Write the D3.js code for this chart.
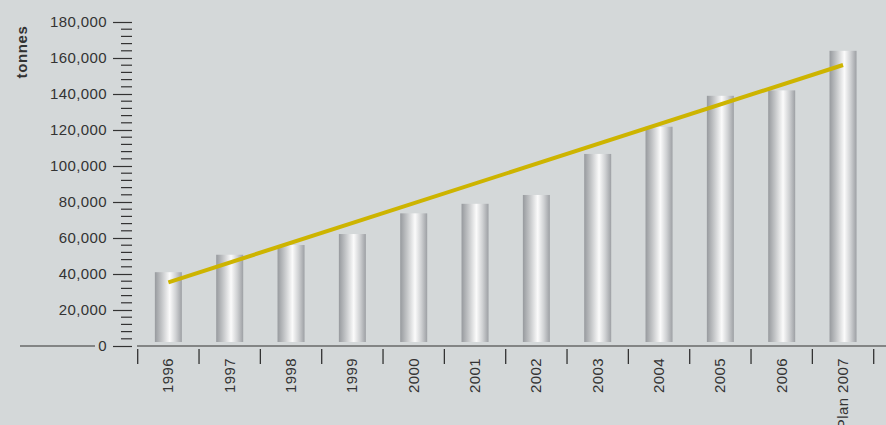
<!DOCTYPE html>
<html>
<head>
<meta charset="utf-8">
<script src="https://cdn.jsdelivr.net/npm/d3@7"></script>
<style>
  body { margin: 0; background: #d4d8d9; }
  svg { display: block; }
  text { font-family: "Liberation Sans", Arial, sans-serif; fill: #333; }
</style>
</head>
<body>
<svg id="chart" width="886" height="425"></svg>
<script>
/*Data*/
var years = ['1996', '1997', '1998', '1999', '2000', '2001', '2002', '2003', '2004', '2005', '2006', 'Plan 2007'];
var tonnes = [41000, 50700, 56100, 62200, 73700, 79000, 83900, 106700, 121800, 139000, 142000, 164000];
var trend = [35400, 156100]; // trend line at first and last year
var yTicks = [0, 20000, 40000, 60000, 80000, 100000, 120000, 140000, 160000, 180000];

var svg = d3.select('#chart');

var x = d3.scaleBand().domain(years).range([137.7, 873.7]).paddingInner(0).paddingOuter(0);
var y = d3.scaleLinear().domain([0, 180000]).range([346, 22]);

/*Bar gradient*/
var grad = svg.append('defs').append('linearGradient')
    .attr('id', 'bar-grad').attr('x1', '0%').attr('x2', '100%');
[[0, '#979a9e'], [0.25, '#c3c5c7'], [0.55, '#fbfbfb'], [0.78, '#cfd1d3'], [1, '#9da0a4']]
  .forEach(function(s) {
    grad.append('stop').attr('offset', s[0]).attr('stop-color', s[1]);
  });

/*Y axis*/
var yAxis = svg.append('g')
    .attr('transform', 'translate(132,0)')
    .call(d3.axisLeft(y).tickValues(yTicks).tickSize(19).tickPadding(6)
      .tickFormat(d3.format(',')));
yAxis.select('.domain').remove();
yAxis.selectAll('.tick line').attr('stroke', '#333').attr('stroke-width', 1.2);
yAxis.selectAll('.tick text')
    .style('font-size', '15px').style('letter-spacing', '0.4px').attr('fill', '#333');

var minor = d3.range(0, 180001, 4000).filter(function(d) { return d % 20000 !== 0; });
svg.append('g').selectAll('line')
  .data(minor)
  .enter().append('line')
    .attr('x1', 121).attr('x2', 132)
    .attr('y1', function(d) { return y(d); })
    .attr('y2', function(d) { return y(d); })
    .attr('stroke', '#333').attr('stroke-width', 1.2);

svg.append('text')
    .attr('transform', 'translate(27,52) rotate(-90)')
    .attr('text-anchor', 'middle')
    .style('font-size', '15px').style('font-weight', 'bold').style('letter-spacing', '0.6px')
    .text('tonnes');

/*Baseline*/
svg.append('line')
    .attr('x1', 20).attr('x2', 95)
    .attr('y1', y(0)).attr('y2', y(0))
    .attr('stroke', '#333').attr('stroke-width', 1.2);
svg.append('line')
    .attr('x1', 137).attr('x2', 886)
    .attr('y1', y(0)).attr('y2', y(0))
    .attr('stroke', '#333').attr('stroke-width', 1.2);

/*X separators and labels*/
var seps = years.map(function(d) { return x(d); }).concat([x.range()[1]]);
svg.append('g').selectAll('line')
  .data(seps)
  .enter().append('line')
    .attr('x1', function(d) { return d; }).attr('x2', function(d) { return d; })
    .attr('y1', 349).attr('y2', 364)
    .attr('stroke', '#333').attr('stroke-width', 1.3);

svg.append('g').selectAll('text')
  .data(years)
  .enter().append('text')
    .attr('transform', function(d) {
      return 'translate(' + (x(d) + x.bandwidth() / 2 + 5) + ',358) rotate(-90)';
    })
    .attr('text-anchor', 'end')
    .style('font-size', '15px').style('letter-spacing', '0.4px')
    .text(function(d) { return d; });

/*Bars*/
var barW = 27;
svg.append('g').selectAll('rect')
  .data(tonnes)
  .enter().append('rect')
    .attr('x', function(d, i) { return x(years[i]) + x.bandwidth() / 2 - barW / 2; })
    .attr('y', function(d) { return y(d); })
    .attr('width', barW)
    .attr('height', function(d) { return y(0) - 4 - y(d); })
    .attr('fill', 'url(#bar-grad)');

/*Trend line*/
var ends = [years[0], years[years.length - 1]];
svg.append('line')
    .attr('x1', x(ends[0]) + x.bandwidth() / 2)
    .attr('x2', x(ends[1]) + x.bandwidth() / 2)
    .attr('y1', y(trend[0]))
    .attr('y2', y(trend[1]))
    .attr('stroke', '#cdb400').attr('stroke-width', 4);
</script>
</body>
</html>
